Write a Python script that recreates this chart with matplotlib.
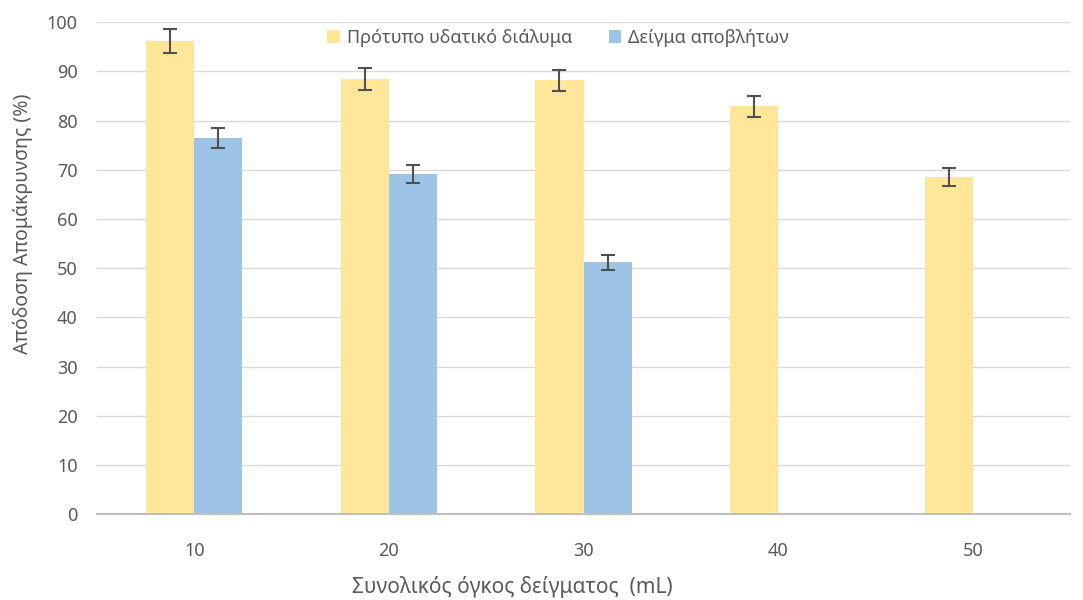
import matplotlib.pyplot as plt
import numpy as np

volumes = ["10", "20", "30", "40", "50"]
standard = [96.2, 88.5, 88.2, 82.9, 68.6]
standard_err = [2.4, 2.2, 2.1, 2.1, 1.8]
waste = [76.4, 69.1, 51.2, np.nan, np.nan]
waste_err = [2.0, 1.8, 1.5, np.nan, np.nan]

series_names = ["Πρότυπο υδατικό διάλυμα", "Δείγμα αποβλήτων"]

plt.rcParams['font.family'] = ['Noto Sans', 'DejaVu Sans']
grey = "#595959"

fig = plt.figure(figsize=(10.83, 6.0), dpi=100)
ax = fig.add_axes([0.0896, 0.143, 0.8984, 0.82])

x = np.arange(len(volumes))
w = 0.247
ax.bar(x - w / 2, standard, w, color="#FFE699", label=series_names[0], zorder=2)
ax.bar(x + w / 2, waste, w, color="#9DC3E6", label=series_names[1], zorder=2)
ax.errorbar(x - w / 2, standard, yerr=standard_err, fmt="none", ecolor="#505050",
            elinewidth=1.5, capsize=5, capthick=1.5, zorder=3)
ax.errorbar(x + w / 2, waste, yerr=waste_err, fmt="none", ecolor="#505050",
            elinewidth=1.5, capsize=5, capthick=1.5, zorder=3)

ax.set_xlim(-0.5, len(volumes) - 0.5)
ax.set_ylim(0, 100)
ax.set_yticks(range(0, 101, 10))
ax.set_xticks(x)
ax.set_xticklabels(volumes)
ax.yaxis.grid(True, color="#D9D9D9", linewidth=1, zorder=0)
ax.set_axisbelow(True)
for s in ["top", "right", "left"]:
    ax.spines[s].set_visible(False)
ax.spines["bottom"].set_color("#BFBFBF")
ax.spines["bottom"].set_linewidth(1.5)
ax.tick_params(length=0, colors=grey, labelsize=13)
ax.tick_params(axis="x", pad=20)
ax.tick_params(axis="y", pad=14)

ax.set_ylabel("Απόδοση Απομάκρυνσης (%)", color=grey, fontsize=14)
ax.yaxis.set_label_coords(-0.066, 0.59)
ax.set_xlabel("Συνολικός όγκος δείγματος  (mL)", color=grey, fontsize=15)
ax.xaxis.set_label_coords(0.427, -0.125)

leg = ax.legend(loc="upper center", bbox_to_anchor=(0.474, 1.02), ncol=2, frameon=False,
                fontsize=13, handlelength=0.7, handleheight=0.7, columnspacing=2.0,
                handletextpad=0.4)
for t in leg.get_texts():
    t.set_color(grey)

fig.savefig("out.png", dpi=100)
